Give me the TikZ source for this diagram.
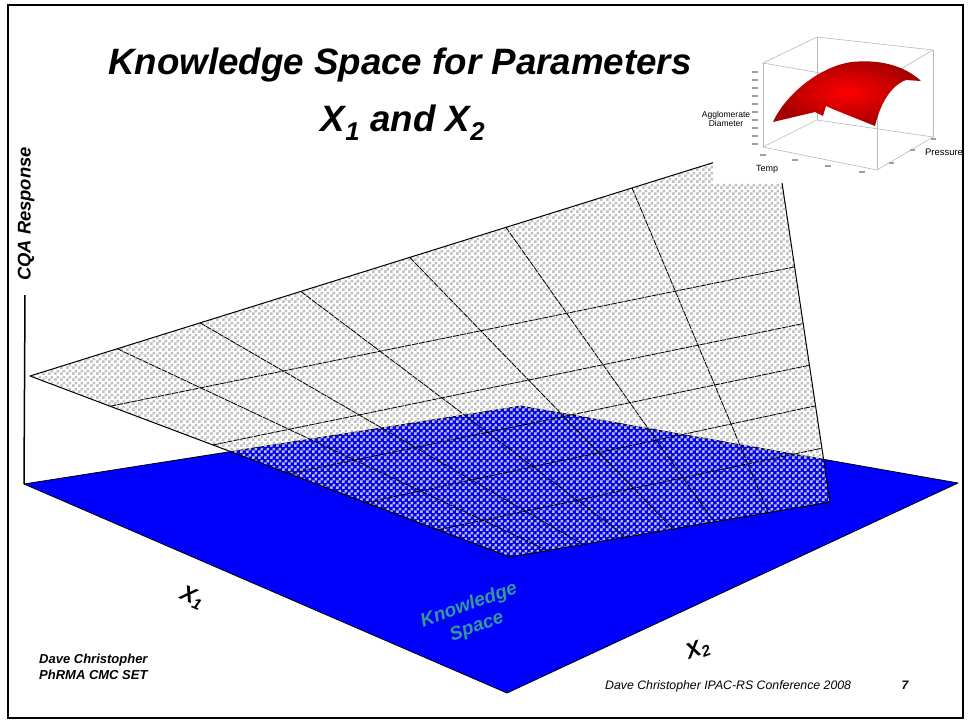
\documentclass[tikz,border=0pt]{standalone}
\usepackage{fontspec}
\setmainfont{Liberation Sans}
\usetikzlibrary{calc,patterns}

\definecolor{planeblue}{RGB}{0,0,255}
\definecolor{checkgray}{RGB}{192,192,192}
\definecolor{ksteal}{RGB}{51,153,153}

\pgfdeclarepatternformonly{checker}{\pgfpointorigin}{\pgfpoint{6pt}{6pt}}{\pgfpoint{6pt}{6pt}}{%
  \pgfpathrectangle{\pgfpointorigin}{\pgfpoint{3pt}{3pt}}%
  \pgfpathrectangle{\pgfpoint{3pt}{3pt}}{\pgfpoint{3pt}{3pt}}%
  \pgfusepath{fill}}

\tikzset{
  meshline/.style={black, line width=0.8pt, dash pattern=on 6pt off 1pt},
  edgeline/.style={black, line width=1pt, line join=round},
  boxline/.style={gray!55, line width=0.6pt},
  ticklbl/.style={gray!75, line width=1.2pt},
}

\begin{document}
\begin{tikzpicture}[x=1pt,y=-1pt]
\useasboundingbox (0,0) rectangle (969,723);
\fill[white] (0,0) rectangle (969,723);

% Base plane
\coordinate (bl) at (24,484);
\coordinate (bt) at (521,406);
\coordinate (br) at (958,483);
\coordinate (bb) at (507,693);
\filldraw[fill=planeblue, draw=black, line width=0.8pt, line join=round] (bl) -- (bt) -- (br) -- (bb) -- cycle;

% Response plane
\coordinate (L) at (30,376);
\coordinate (TR) at (776,143);
\coordinate (BR) at (830,502);
\coordinate (B) at (510,557);
\fill[pattern=checker, pattern color=checkgray] (L) -- (TR) -- (BR) -- (B) -- cycle;

% Mesh on the response plane
\foreach \f in {0.117,0.228,0.363,0.509,0.638,0.807}
  \draw[meshline] ($(L)!\f!(TR)$) -- ($(B)!\f!(BR)$);
\foreach \a/\b in {0.167/0.345,0.381/0.503,0.54/0.619,0.70/0.732,0.85/0.85}
  \draw[meshline] ($(L)!\a!(B)$) -- ($(TR)!\b!(BR)$);
\draw[edgeline] (B) -- (L) -- (TR) -- (BR) -- (B);

% Response axis
\coordinate (axtop) at (25,295);
\draw[black, line width=1.5pt] (axtop) -- (bl);

% Inset plot
\fill[white] (713,8) rectangle (961,183);
\coordinate (ia) at (763,63);  \coordinate (ib) at (817,37);
\coordinate (ic) at (933,50);  \coordinate (id) at (877,83);
\coordinate (ia2) at (763,147); \coordinate (ib2) at (817,120);
\coordinate (ic2) at (933,137); \coordinate (id2) at (877,170);
\draw[boxline] (ia) -- (ib) -- (ic) -- (id) -- cycle;
\draw[boxline] (ia2) -- (ib2) -- (ic2) -- (id2) -- cycle;
\draw[boxline] (ia) -- (ia2) (ib) -- (ib2) (ic) -- (ic2) (id) -- (id2);
\shade[inner color=red, outer color=red!65!black]
  (773,122) .. controls (785,95) and (820,66) .. (852,62)
  .. controls (880,59) and (905,66) .. (921,81) -- (906,80)
  .. controls (890,86) and (880,105) .. (875,126)
  -- (835,110) -- (826,106) -- (823,116) -- (815,112) -- cycle;
\foreach \y in {72,80,...,144}
  \draw[ticklbl] (752,\y) -- (758,\y);
\foreach \x/\y in {763/155,795/160,828/166,862/172}
  \draw[ticklbl] (\x-3,\y) -- (\x+3,\y);
\foreach \x/\y in {889/163,910/150,931/139}
  \draw[ticklbl] (\x,\y) -- (\x+5,\y);
\node[font=\fontsize{8.5}{7.5}\selectfont, align=center, inner sep=0pt] (zlabel) at (726,119) {Agglomerate\\Diameter};
\node[font=\fontsize{9.5}{11}\selectfont, inner sep=0pt] (plabel) at (944,152) {Pressure};
\node[font=\fontsize{9}{11}\selectfont, inner sep=0pt] (tlabel) at (767,169) {Temp};

% Title
\node[font=\fontsize{36.7}{44}\selectfont\bfseries\itshape, anchor=base, inner sep=0pt] (title) at (400,74) {Knowledge Space for Parameters};
\node[font=\fontsize{36.7}{44}\selectfont\bfseries\itshape, anchor=base, inner sep=0pt] (subtitle) at (403,131) {X\textsubscript{1} and X\textsubscript{2}};

% Axis labels
\node[font=\fontsize{18.4}{22}\selectfont\bfseries\itshape, rotate=90, inner sep=0pt] (resp) at (26,214) {CQA Response};
\node[font=\fontsize{22}{26}\selectfont\bfseries\itshape, rotate=-23, inner sep=0pt] (xone) at (192,598) {X\textsubscript{1}};
\node[font=\fontsize{22}{26}\selectfont\bfseries\itshape, rotate=20, inner sep=0pt] (xtwo) at (698,650) {X\textsubscript{2}};

% Knowledge space
\node[font=\fontsize{19}{23}\selectfont\bfseries\itshape, text=ksteal, rotate=20, align=center, inner sep=0pt] (ks) at (473,616) {Knowledge\\Space};

% Credits
\node[font=\fontsize{13}{16}\selectfont\bfseries\itshape, align=left, anchor=north west, inner sep=0pt] (credit) at (39,654) {Dave Christopher\\PhRMA CMC SET};
\node[font=\fontsize{12.3}{15}\selectfont\itshape, anchor=base west, inner sep=0pt] (footer) at (605,689) {Dave Christopher IPAC-RS Conference 2008};
\node[font=\fontsize{12.3}{15}\selectfont\bfseries\itshape, anchor=base, inner sep=0pt] (page) at (905,689) {7};

% Slide frame
\draw[black, line width=2pt] (8,5) rectangle (963,718);
\end{tikzpicture}
\end{document}
